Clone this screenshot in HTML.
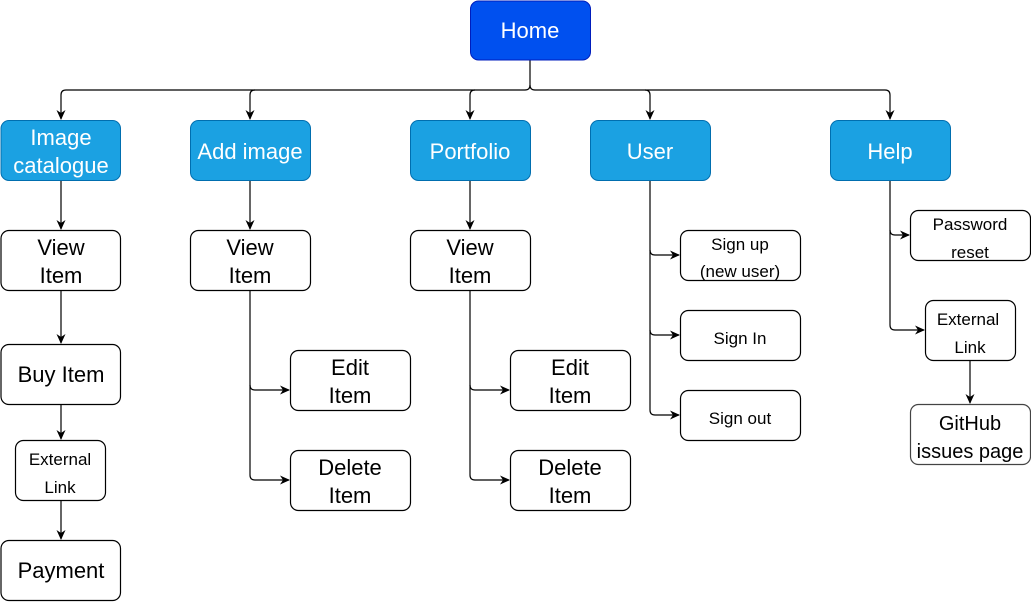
<!DOCTYPE html>
<html><head><style>
html,body{margin:0;padding:0;background:#fff;}
svg{display:block;}
text{font-family:"Liberation Sans",Arial,sans-serif;text-anchor:middle;}
</style></head><body>
<svg width="1031" height="602" viewBox="0 0 1031 602" xmlns="http://www.w3.org/2000/svg">
<defs>
<marker id="a" markerWidth="12" markerHeight="12" refX="9" refY="6" orient="auto" markerUnits="userSpaceOnUse">
<path d="M0,1.5 L10,6 L0,10.5 L3,6 Z" fill="#000"/>
</marker>
</defs>
<g fill="none" stroke="#000" stroke-width="1.2">
<path d="M530,60 V85 Q530,90 525,90 H66 Q61,90 61,95 V119" marker-end="url(#a)"/>
<path d="M530,85 Q530,90 535,90 H885 Q890,90 890,95 V119" marker-end="url(#a)"/>
<path d="M255,90 Q250,90 250,95 V119" marker-end="url(#a)"/>
<path d="M475,90 Q470,90 470,95 V119" marker-end="url(#a)"/>
<path d="M645,90 Q650,90 650,95 V119" marker-end="url(#a)"/>
<path d="M61,180 V229" marker-end="url(#a)"/>
<path d="M61,290 V343" marker-end="url(#a)"/>
<path d="M61,404 V439" marker-end="url(#a)"/>
<path d="M61,500 V539" marker-end="url(#a)"/>
<path d="M250,180 V229" marker-end="url(#a)"/>
<path d="M250,290 V385 Q250,390 255,390 H289" marker-end="url(#a)"/>
<path d="M250,385 V475 Q250,480 255,480 H289" marker-end="url(#a)"/>
<path d="M470,180 V229" marker-end="url(#a)"/>
<path d="M470,290 V385 Q470,390 475,390 H509" marker-end="url(#a)"/>
<path d="M470,385 V475 Q470,480 475,480 H509" marker-end="url(#a)"/>
<path d="M650,180 V250 Q650,255 655,255 H679" marker-end="url(#a)"/>
<path d="M650,250 V330 Q650,335 655,335 H679" marker-end="url(#a)"/>
<path d="M650,330 V410 Q650,415 655,415 H679" marker-end="url(#a)"/>
<path d="M890,180 V230 Q890,235 895,235 H909" marker-end="url(#a)"/>
<path d="M890,230 V325 Q890,330 895,330 H924" marker-end="url(#a)"/>
<path d="M970,360 V403" marker-end="url(#a)"/>
</g>
<rect x="470.5" y="1" width="120" height="59" rx="8" fill="#0050ef" stroke="#001dbc"/>
<text x="530" y="38" font-size="22" fill="#fff">Home</text>
<g fill="#1ba1e2" stroke="#006eaf">
<rect x="1" y="120.5" width="119.5" height="60" rx="8"/>
<rect x="190.5" y="120.5" width="120" height="60" rx="8"/>
<rect x="410.5" y="120.5" width="120" height="60" rx="8"/>
<rect x="590.5" y="120.5" width="120" height="60" rx="8"/>
<rect x="830.5" y="120.5" width="120" height="60" rx="8"/>
</g>
<g fill="#fff" font-size="22">
<text x="61" y="145">Image</text>
<text x="61" y="173">catalogue</text>
<text x="250" y="159">Add image</text>
<text x="470" y="159">Portfolio</text>
<text x="650" y="159">User</text>
<text x="890" y="159">Help</text>
</g>
<g fill="#fff" stroke="#000" stroke-width="1.2">
<rect x="1" y="230.5" width="119.5" height="60" rx="8"/>
<rect x="190.5" y="230.5" width="120" height="60" rx="8"/>
<rect x="410.5" y="230.5" width="120" height="60" rx="8"/>
<rect x="1" y="344.5" width="119.5" height="60" rx="8"/>
<rect x="15.5" y="440.5" width="90" height="60" rx="8"/>
<rect x="1" y="540.5" width="119.5" height="60" rx="8"/>
<rect x="290.5" y="350.5" width="120" height="60" rx="8"/>
<rect x="290.5" y="450.5" width="120" height="60" rx="8"/>
<rect x="510.5" y="350.5" width="120" height="60" rx="8"/>
<rect x="510.5" y="450.5" width="120" height="60" rx="8"/>
<rect x="680.5" y="230.5" width="120" height="50" rx="8"/>
<rect x="680.5" y="310.5" width="120" height="50" rx="8"/>
<rect x="680.5" y="390.5" width="120" height="50" rx="8"/>
<rect x="910.5" y="210.5" width="120" height="50" rx="8"/>
<rect x="925.5" y="300.5" width="90" height="60" rx="8"/>
<rect x="910.5" y="404.5" width="120" height="60" rx="8" stroke="#444"/>
</g>
<g fill="#000" font-size="22">
<text x="61" y="255">View</text><text x="61" y="283">Item</text>
<text x="250" y="255">View</text><text x="250" y="283">Item</text>
<text x="470" y="255">View</text><text x="470" y="283">Item</text>
<text x="61" y="382">Buy Item</text>
<text x="61" y="578">Payment</text>
<text x="350" y="375">Edit</text><text x="350" y="403">Item</text>
<text x="350" y="475">Delete</text><text x="350" y="503">Item</text>
<text x="570" y="375">Edit</text><text x="570" y="403">Item</text>
<text x="570" y="475">Delete</text><text x="570" y="503">Item</text>
</g>
<g fill="#000" font-size="17">
<text x="60" y="465">External</text><text x="60" y="493">Link</text>
<text x="740" y="250">Sign up</text><text x="740" y="277">(new user)</text>
<text x="740" y="344">Sign In</text>
<text x="740" y="424">Sign out</text>
<text x="970" y="230">Password</text><text x="970" y="258">reset</text>
<text x="968" y="325">External</text><text x="970" y="353">Link</text>
</g>
<g fill="#000" font-size="20">
<text x="970" y="430">GitHub</text><text x="970" y="458">issues page</text>
</g>
</svg>
</body></html>
